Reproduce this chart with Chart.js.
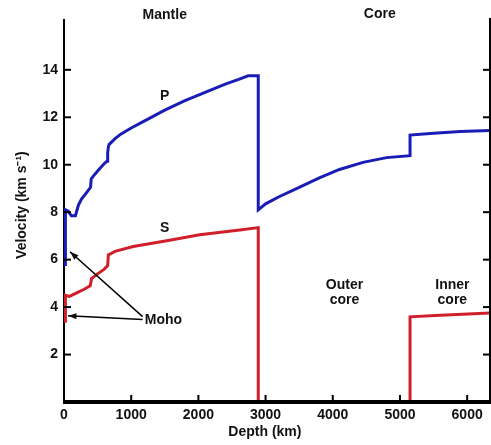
<!DOCTYPE html>
<html>
<head>
<meta charset="utf-8">
<script src="https://cdn.jsdelivr.net/npm/chart.js@4"></script>
<style>
  html, body { margin: 0; padding: 0; background: #fff; }
</style>
</head>
<body>
<canvas id="myChart" width="491" height="445"></canvas>
<script>
// P-wave velocity (km/s) against depth (km)
const pDepth = [0, 15, 15, 24, 24, 60, 110, 170, 215, 260, 330, 395, 405, 430, 520, 600, 640, 650, 660, 670, 760, 850, 1000, 1200, 1500, 1800, 2100, 2400, 2600, 2740, 2891, 2891, 3000, 3200, 3500, 3800, 4100, 4450, 4800, 5150, 5150, 5500, 5900, 6371];
const pVel = [5.8, 5.8, 6.5, 6.5, 8.1, 8.05, 7.85, 7.85, 8.3, 8.55, 8.8, 9.05, 9.4, 9.5, 9.8, 10.05, 10.15, 10.5, 10.75, 10.85, 11.1, 11.3, 11.55, 11.85, 12.3, 12.7, 13.05, 13.4, 13.6, 13.75, 13.75, 8.1, 8.35, 8.65, 9.05, 9.45, 9.8, 10.1, 10.3, 10.38, 11.25, 11.33, 11.4, 11.45];

// S-wave velocity
const sDepth = [0, 15, 15, 24, 24, 80, 190, 300, 390, 410, 500, 600, 650, 660, 760, 1030, 1530, 2020, 2615, 2891, 2891, 5150, 5150, 5600, 6371];
const sVel = [3.4, 3.4, 3.9, 3.9, 4.5, 4.45, 4.6, 4.75, 4.9, 5.2, 5.4, 5.6, 5.75, 6.2, 6.35, 6.55, 6.8, 7.05, 7.25, 7.35, 0, 0, 3.59, 3.66, 3.75];

const xTicks = [0, 1000, 2000, 3000, 4000, 5000, 6000];
const yTicks = [2, 4, 6, 8, 10, 12, 14];

// text notes, placed in data coordinates
const notes = [
    { text: 'Mantle', x: 1500, y: 16.3 },
    { text: 'Core', x: 4700, y: 16.35 },
    { text: 'P', x: 1500, y: 12.87 },
    { text: 'S', x: 1500, y: 7.34 },
    { text: 'Outer', x: 4175, y: 4.94 },
    { text: 'core', x: 4175, y: 4.3 },
    { text: 'Inner', x: 5780, y: 4.94 },
    { text: 'core', x: 5780, y: 4.3 },
    { text: 'Moho', x: 1480, y: 3.46 }
];
const mohoArrows = [
    { from: [1170, 3.6], to: [90, 6.33] },
    { from: [1170, 3.48], to: [60, 3.63] }
];

const FONT = '"Liberation Sans", Arial, sans-serif';

function toPoints(xs, ys) {
    return xs.map((d, i) => ({ x: d, y: ys[i] }));
}

const overlay = {
    id: 'overlay',
    afterDraw(chart) {
        const { ctx, chartArea: a, scales: { x, y } } = chart;
        ctx.save();
        ctx.strokeStyle = '#000';
        const line = (x1, y1, x2, y2) => {
            ctx.beginPath(); ctx.moveTo(x1, y1); ctx.lineTo(x2, y2); ctx.stroke();
        };
        // bottom axis over the zero-velocity S segment
        ctx.lineWidth = 4;
        line(a.left - 1, a.bottom, a.right + 1, a.bottom);
        // right frame line and inward ticks
        ctx.lineWidth = 2;
        line(a.right, a.top - 2, a.right, a.bottom);
        yTicks.forEach(v => {
            const py = y.getPixelForValue(v);
            line(a.left, py, a.left + 7, py);
            line(a.right, py, a.right - 7, py);
        });
        xTicks.slice(1).forEach(v => {
            const px = x.getPixelForValue(v);
            line(px, a.bottom, px, a.bottom - 7);
        });

        ctx.fillStyle = '#111';
        ctx.font = 'bold 14px ' + FONT;
        ctx.textAlign = 'center';
        ctx.textBaseline = 'middle';
        notes.forEach(n => {
            ctx.fillText(n.text, x.getPixelForValue(n.x), y.getPixelForValue(n.y));
        });
        ctx.fillText('Depth (km)', x.getPixelForValue(2990), a.bottom + 30);

        // y axis title
        ctx.save();
        ctx.translate(a.left - 42, y.getPixelForValue(8.3));
        ctx.rotate(-Math.PI / 2);
        ctx.fillText('Velocity (km s\u207B\u00B9)', 0, 0);
        ctx.restore();

        // Moho arrows
        ctx.lineWidth = 1.5;
        mohoArrows.forEach(ar => {
            const x1 = x.getPixelForValue(ar.from[0]), y1 = y.getPixelForValue(ar.from[1]);
            const x2 = x.getPixelForValue(ar.to[0]), y2 = y.getPixelForValue(ar.to[1]);
            line(x1, y1, x2, y2);
            const ang = Math.atan2(y2 - y1, x2 - x1);
            ctx.beginPath();
            ctx.moveTo(x2, y2);
            ctx.lineTo(x2 - 9 * Math.cos(ang - 0.35), y2 - 9 * Math.sin(ang - 0.35));
            ctx.lineTo(x2 - 9 * Math.cos(ang + 0.35), y2 - 9 * Math.sin(ang + 0.35));
            ctx.closePath();
            ctx.fill();
        });
        ctx.restore();
    }
};

const ctx = document.getElementById('myChart').getContext('2d');
new Chart(ctx, {
    type: 'scatter',
    data: {
        datasets: [
            {
                label: 'P',
                data: toPoints(pDepth, pVel),
                showLine: true,
                borderColor: '#1a1db5',
                borderWidth: 3,
                pointRadius: 0,
                tension: 0
            },
            {
                label: 'S',
                data: toPoints(sDepth, sVel),
                showLine: true,
                borderColor: '#d01f2a',
                borderWidth: 3,
                pointRadius: 0,
                tension: 0
            }
        ]
    },
    options: {
        responsive: false,
        animation: false,
        layout: { padding: { top: 20, right: 1, left: 0, bottom: 0 } },
        plugins: { legend: { display: false }, tooltip: { enabled: false } },
        scales: {
            x: {
                type: 'linear',
                min: 0,
                max: 6340,
                afterBuildTicks: s => { s.ticks = xTicks.map(v => ({ value: v })); },
                afterFit: s => { s.height = 43; },
                grid: { display: false, drawTicks: false },
                border: { color: '#000', width: 2 },
                ticks: {
                    color: '#111', padding: 5, maxRotation: 0,
                    font: { family: FONT, size: 14, weight: 'bold' },
                    callback: v => String(v)
                }
            },
            y: {
                min: 0,
                max: 16.1,
                afterBuildTicks: s => { s.ticks = yTicks.map(v => ({ value: v })); },
                afterFit: s => { s.width = 64; },
                grid: { display: false, drawTicks: false },
                border: { color: '#000', width: 2 },
                ticks: { color: '#111', padding: 6, font: { family: FONT, size: 14, weight: 'bold' } }
            }
        }
    },
    plugins: [overlay]
});
</script>
</body>
</html>
